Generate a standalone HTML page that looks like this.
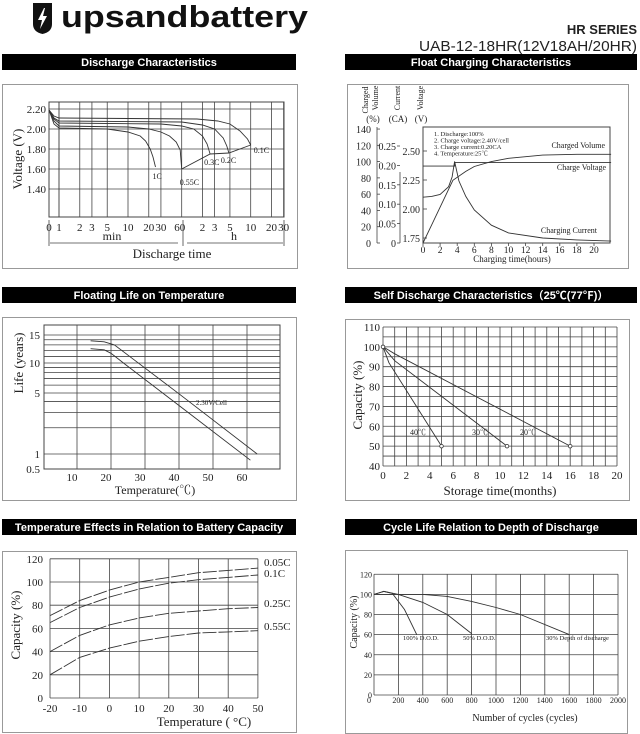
<!DOCTYPE html>
<html><head><meta charset="utf-8"><style>
html,body{margin:0;padding:0;background:#fff;width:640px;height:734px;overflow:hidden}
svg{display:block}
.s{font-family:"Liberation Serif","Noto Serif CJK SC",serif;fill:#222}
.b{font-family:"Liberation Sans","Noto Sans CJK SC",sans-serif;font-weight:bold}
</style></head><body>
<svg id="page" width="640" height="734" viewBox="0 0 640 734" xmlns="http://www.w3.org/2000/svg">
<g>
<path d="M33 3 H52 V24 Q52 32 42.5 34 Q33 32 33 24 Z" fill="#111"/>
<path d="M44 8 L38 20 H42 L40 29 L47 16 H43 L45 8 Z" fill="#fff"/>
<text x="61" y="27" class="b" font-size="31" fill="#111" textLength="247" lengthAdjust="spacingAndGlyphs">upsandbattery</text>
</g>
<text x="637" y="34" text-anchor="end" class="b" font-size="13" fill="#222">HR SERIES</text>
<text x="637" y="51" text-anchor="end" font-family="Liberation Sans, sans-serif" font-size="15" fill="#222" textLength="218" lengthAdjust="spacingAndGlyphs">UAB-12-18HR(12V18AH/20HR)</text>
<g id="root"></g>
</svg>
<script>
// ---------- data ----------
// Discharge (minutes, volts)
const dcLabels=["1C","0.55C","0.3C","0.2C","0.1C"];
const dcTime=[[0,0.5,1,5,10,15,18,21,23,25],[0,0.5,1,10,20,30,40,50,57,60],[0,0.5,1,30,60,90,120,140,155],[0,0.5,1,60,120,180,240,270,290],[0,0.5,1,100,200,300,420,540,600]];
const dcVolt=[[2.19,2.05,2.01,2.00,1.97,1.93,1.88,1.80,1.72,1.62],[2.19,2.08,2.03,2.02,2.00,1.97,1.93,1.87,1.79,1.60],[2.19,2.10,2.06,2.05,2.03,2.00,1.93,1.85,1.75],[2.19,2.11,2.08,2.07,2.04,2.00,1.91,1.83,1.76],[2.19,2.13,2.11,2.10,2.08,2.05,1.98,1.90,1.84]];
const dcXTicks=[1,2,3,5,10,20,30,60,120,180,300,600,1200,1800];
const dcXTickLabels=["1","2","3","5","10","20","30","60","2","3","5","10","20","30"];
const dcYTicks=[2.20,2.00,1.80,1.60,1.40];
// Float charging (hours)
const fcHours=[0,2,4,6,8,10,12,14,16,18,20];
const volHours=[0,3.7,3.7,22];
const volValues=[2.37,2.37,2.40,2.40];
const cvHours=[0,1,2,3,3.5,5,6,8,10,12,14,18,22];
const cvValues=[0,22,44,66,77,88,94,100,104,106,108,109,109];
const ccHours=[0,1,2,3,3.4,3.7,4.2,5,6,8,10,14,18,22];
const ccValues=[0.118,0.12,0.125,0.145,0.17,0.21,0.16,0.12,0.085,0.046,0.026,0.013,0.008,0.005];
const pctTicks=[0,20,40,60,80,100,120,140];
const caTicks=[0,0.05,0.10,0.15,0.20,0.25];
const vTicks=[1.75,2.00,2.25,2.50];
// Floating life
const lifeTemp=[[14,18,21,25,40,63],[14,18,20,24,40,61]];
const lifeYears=[[13.8,13.6,13.0,11.2,4.9,1.0],[12.3,12.1,11.5,9.8,3.6,0.75]];
const lifeXTicks=[10,20,30,40,50,60];
const lifeYTicks=[15,10,5,1,0.5];
// Self discharge
const sdLabels=["40℃","30℃","20℃"];
const sdMonths=[[0,0.5,5],[0,1,10.6],[0,1,16]];
const sdCap=[[100,92,50],[100,93,50],[100,96.5,50]];
const sdXTicks=[0,2,4,6,8,10,12,14,16,18,20];
const sdYTicks=[40,50,60,70,80,90,100,110];
// Temperature effect
const teLabels=["0.05C","0.1C","0.25C","0.55C"];
const teTemps=[-20,-10,0,10,20,30,40,50];
const teCap=[[71,84,93,100,104,108,110,112],[65,78,87,94,99,102,104,106],[40,54,63,69,73,75,77,78],[20,35,43,49,53,56,57,58]];
const teXTicks=[-20,-10,0,10,20,30,40,50];
const teYTicks=[0,20,40,60,80,100,120];
// Cycle life
const clLabels=["100% D.O.D.","50% D.O.D.","30% Depth of discharge"];
const clCycles=[[0,80,150,250,350],[0,80,200,400,600,800],[0,200,400,600,800,1000,1200,1600]];
const clCap=[[100,103,101,85,60],[100,103,100,92,80,61],[100,100,100,98,93,87,80,60]];
const clXTicks=[0,200,400,600,800,1000,1200,1400,1600,1800,2000];
const clYTicks=[0,20,40,60,80,100,120];

// ---------- helpers ----------
const NS="http://www.w3.org/2000/svg";
const root=document.getElementById('root');
function mk(tag,attrs,name,parent){
  const el=document.createElementNS(NS,tag);
  for(const k in attrs)el.setAttribute(k,attrs[k]);
  
  
  (parent||root).appendChild(el);return el;}
function ln(x1,y1,x2,y2,name,w,c,p){return mk('line',{x1,y1,x2,y2,stroke:c||'#444','stroke-width':w||0.8},name,p);}
function tx(x,y,s,name,size,anchor,p,extra){const t=mk('text',Object.assign({x,y,'font-size':size||10,'text-anchor':anchor||'middle',class:'s'},extra||{}),name,p);t.textContent=s;return t;}
function poly(xs,ys,fx,fy,name,p,dash){const d=xs.map((v,i)=>(i?'L':'M')+fx(v).toFixed(1)+' '+fy(ys[i]).toFixed(1)).join(' ');const a={d,fill:'none',stroke:'#333','stroke-width':0.9};if(dash)a['stroke-dasharray']=dash;return mk('path',a,name,p);}
function rect(x,y,w,h,name,fill,stroke,p){return mk('rect',{x,y,width:w,height:h,fill:fill||'none',stroke:stroke||'none'},name,p);}
function bar(x,y,w,s,name){const g=mk('g',{},name);rect(x,y,w,16,'title-bar-bg','#000',null,g);const t=mk('text',{x:x+w/2,y:y+12,'font-size':11,'text-anchor':'middle',fill:'#fff',class:'b'},'title-bar-text',g);t.textContent=s;}
bar(2,54,294,'Discharge Characteristics','discharge-title');
bar(345,54,292,'Float Charging Characteristics','float-charging-title');
bar(2,287,294,'Floating Life on Temperature','floating-life-title');
bar(345,287,292,'Self Discharge Characteristics（25℃(77℉)）','self-discharge-title');
bar(2,519,294,'Temperature Effects in Relation to Battery Capacity','temperature-effects-title');
bar(345,519,292,'Cycle Life Relation to Depth of Discharge','cycle-life-title');

// ---------- chart 1: discharge ----------
(function(){
const g=mk('g',{},'discharge-chart');
rect(2.5,84.5,295,184,'panel-frame',null,'#999',g);
const X=m=>m<=0?49:(m<1?49+10*m:59+69*Math.log10(m));
const Y=v=>129-(v-2.0)*100;
rect(49,102,235,115,'plot-area',null,'#444',g);
dcYTicks.forEach(v=>{ln(49,Y(v),284,Y(v),'y-gridline',0.8,'#444',g);tx(46,Y(v)+4,v.toFixed(2),'y-tick-label',11,'end',g);});
ln(59,102,59,217,'x-gridline',0.8,'#444',g);
dcXTicks.forEach((m,i)=>{ln(X(m),102,X(m),217,'x-gridline',0.8,'#444',g);tx(X(m)+(i==7?-2:0),231,dcXTickLabels[i],'x-tick-label',11,'middle',g);});
tx(49,231,'0','x-tick-label',11,'middle',g);
dcTime.forEach((t,i)=>poly(t,dcVolt[i],X,Y,'series-'+dcLabels[i],g));
const ends=dcTime.slice(1).map((t,i)=>t[t.length-1]);const endV=dcVolt.slice(1).map(v=>v[v.length-1]);
poly(ends,endV,X,Y,'end-voltage-line',g);
const lx=[[-3,12],[-2,16],[-6,11],[-8,10],[3,8]];
dcTime.forEach((t,i)=>{const v=dcVolt[i];tx(X(t[t.length-1])+lx[i][0],Y(v[v.length-1])+lx[i][1],dcLabels[i],'curve-label-'+dcLabels[i],8,'start',g);});
ln(49,220,49,246,'axis-divider',0.8,'#444',g);ln(183,220,183,246,'axis-divider',0.8,'#444',g);ln(284,220,284,246,'axis-divider',0.8,'#444',g);
ln(50,243,178,243,'min-arrow',0.8,'#444',g);ln(187,243,283,243,'h-arrow',0.8,'#444',g);
tx(112,240,'min','min-label',12,'middle',g);tx(234,240,'h','h-label',12,'middle',g);
tx(172,258,'Discharge time','x-axis-title',13,'middle',g);
tx(0,0,'Voltage (V)','y-axis-title',13,'middle',g,{transform:'translate(22,159) rotate(-90)'});
})();

// ---------- chart 2: float charging ----------
(function(){
const g=mk('g',{},'float-charging-chart');
rect(347.5,84.5,281,184,'panel-frame',null,'#999',g);
const X=h=>423+h*8.55;
const YV=v=>238-(v-1.75)*116;
const YP=p=>243-p*0.814;
const YC=c=>243-c*388;
rect(423,127,187,116,'plot-area',null,'#444',g);
ln(377,127,377,243,'pct-axis',0.8,'#444',g);
pctTicks.forEach(p=>{ln(377,YP(p),380,YP(p),'pct-tick',0.8,'#444',g);tx(371,YP(p)+4,String(p),'pct-tick-label',10,'end',g);});
ln(400,172,400,243,'ca-axis',0.8,'#444',g);
caTicks.forEach(c=>{ln(397,YC(c),400,YC(c),'ca-tick',0.8,'#444',g);tx(396,YC(c)+4,c==0?'0':c.toFixed(2),'ca-tick-label',10,'end',g);});
vTicks.forEach(v=>{ln(423,YV(v),427,YV(v),'v-tick',0.8,'#444',g);tx(420,YV(v)+4,v.toFixed(2),'v-tick-label',10,'end',g);});
fcHours.forEach(h=>{ln(X(h),243,X(h),246,'x-tick',0.8,'#444',g);tx(X(h),253,String(h),'x-tick-label',9.5,'middle',g);});
poly(volHours,volValues,X,YV,'charge-voltage-line',g);
poly(cvHours,cvValues,X,YP,'charged-volume-line',g);
poly(ccHours,ccValues,X,YC,'charging-current-line',g);
['1. Discharge:100%','2. Charge voltage:2.40V/cell','3. Charge current:0.20CA','4. Temperature:25℃'].forEach((s,i)=>tx(434,136+i*6.5,s,'note-line',6.5,'start',g));
tx(605,148,'Charged Volume','charged-volume-label',8,'end',g);
tx(606,170,'Charge Voltage','charge-voltage-label',8,'end',g);
tx(597,233,'Charging Current','charging-current-label',8,'end',g);
tx(512,262,'Charging time(hours)','x-axis-title',9,'middle',g);
tx(0,0,'Charged','h1',8,'middle',g,{transform:'translate(368,100) rotate(-90)'});
tx(0,0,'Volume','h2',8,'middle',g,{transform:'translate(378,98) rotate(-90)'});
tx(0,0,'Current','h3',8,'middle',g,{transform:'translate(400,98) rotate(-90)'});
tx(0,0,'Voltage','h4',8,'middle',g,{transform:'translate(423,98) rotate(-90)'});
tx(373,122,'(%)','pct-unit',9,'middle',g);tx(398,122,'(CA)','ca-unit',9,'middle',g);tx(421,122,'(V)','v-unit',9,'middle',g);
})();

// ---------- chart 3: floating life ----------
(function(){
const g=mk('g',{},'floating-life-chart');
rect(2.5,317.5,294,183,'panel-frame',null,'#999',g);
const X=t=>43+3.4*t;
const lv=[Math.log10(0.5),0,Math.log10(5),1,Math.log10(15)],lp=[469,454,393,363,335];
const Y=v=>{const l=Math.log10(v);for(let i=0;i<lv.length-1;i++){if(l<=lv[i+1]||i==lv.length-2){return lp[i]+(l-lv[i])/(lv[i+1]-lv[i])*(lp[i+1]-lp[i]);}}};
rect(44,325,236,144,'plot-area',null,'#444',g);
[2,3,4,6,7,8,9,11,12,13,14].concat(lifeYTicks).forEach(v=>ln(44,Y(v),280,Y(v),'y-gridline',0.8,'#444',g));
ln(44,325,280,325,'y-gridline',0.8,'#444',g);
lifeYTicks.forEach(v=>tx(40,Y(v)+4,String(v),'y-tick-label',11,'end',g));
lifeXTicks.forEach(t=>{ln(X(t),325,X(t),469,'x-gridline',0.8,'#444',g);tx(X(t)-5,481,String(t),'x-tick-label',11,'middle',g);});
lifeTemp.forEach((t,i)=>poly(t,lifeYears[i],X,Y,'life-curve-'+(i?'lower':'upper'),g));
tx(196,405,'2.30V/Cell','curve-label',7,'start',g);
tx(155,494,'Temperature(℃)','x-axis-title',12,'middle',g);
tx(0,0,'Life (years)','y-axis-title',13,'middle',g,{transform:'translate(23,363) rotate(-90)'});
})();

// ---------- chart 4: self discharge ----------
(function(){
const g=mk('g',{},'self-discharge-chart');
rect(345.5,319.5,284,181,'panel-frame',null,'#999',g);
const X=m=>383+m*11.7;
const Y=c=>466-(c-40)*1.986;
for(let m=0;m<=20;m++)ln(X(m),Y(110),X(m),Y(40),'x-gridline',0.8,'#444',g);
for(let c=40;c<=110;c+=5)ln(X(0),Y(c),X(20),Y(c),'y-gridline',0.8,'#444',g);
sdYTicks.forEach(c=>tx(380,Y(c)+4,String(c),'y-tick-label',11,'end',g));
sdXTicks.forEach(m=>tx(X(m),479,String(m),'x-tick-label',11,'middle',g));
sdMonths.forEach((t,i)=>{poly(t,sdCap[i],X,Y,'series-'+sdLabels[i],g);mk('circle',{cx:X(t[t.length-1]),cy:Y(sdCap[i][t.length-1]),r:1.8,fill:'#fff',stroke:'#333','stroke-width':0.8},'end-marker',g);});
mk('circle',{cx:X(0),cy:Y(100),r:1.8,fill:'#fff',stroke:'#333','stroke-width':0.8},'start-marker',g);
const lx=[418,480,528];
sdLabels.forEach((s,i)=>tx(lx[i],435,s,'curve-label',8,'middle',g));
tx(500,495,'Storage time(months)','x-axis-title',13,'middle',g);
tx(0,0,'Capacity (%)','y-axis-title',13,'middle',g,{transform:'translate(362,395) rotate(-90)'});
})();

// ---------- chart 5: temperature effects ----------
(function(){
const g=mk('g',{},'temperature-effects-chart');
rect(2.5,551.5,294,181,'panel-frame',null,'#999',g);
const X=t=>50+(t+20)*2.97;
const Y=c=>698-c*1.16;
teXTicks.forEach(t=>{ln(X(t),Y(120),X(t),Y(0),'x-gridline',0.8,'#444',g);tx(X(t),712,String(t),'x-tick-label',11,'middle',g);});
teYTicks.forEach(c=>{ln(X(-20),Y(c),X(50),Y(c),'y-gridline',0.8,'#444',g);tx(43,Y(c)+4,String(c),'y-tick-label',11,'end',g);});
teCap.forEach((v,i)=>poly(teTemps,v,X,Y,'series-'+teLabels[i],g,'14 2'));
const ly=[566,577,607,630];
teLabels.forEach((s,i)=>tx(264,ly[i],s,'curve-label-'+s,11,'start',g));
tx(204,726,'Temperature ( °C)','x-axis-title',13,'middle',g);
tx(0,0,'Capacity (%)','y-axis-title',13,'middle',g,{transform:'translate(20,625) rotate(-90)'});
})();

// ---------- chart 6: cycle life ----------
(function(){
const g=mk('g',{},'cycle-life-chart');
rect(345.5,550.5,282,183,'panel-frame',null,'#999',g);
const X=n=>374+n*0.122;
const Y=c=>695-c*1.006;
clXTicks.forEach(n=>{ln(X(n),Y(120),X(n),Y(0),'x-gridline',0.8,'#444',g);tx(X(n)+(n?0:-5),703,String(n),'x-tick-label',8,'middle',g);});
clYTicks.forEach(c=>{ln(X(0),Y(c),X(2000),Y(c),'y-gridline',0.8,'#444',g);tx(372,Y(c)+3,String(c),'y-tick-label',8,'end',g);});
clCycles.forEach((t,i)=>poly(t,clCap[i],X,Y,'series-'+i,g));
const lx=[403,463,546];
clLabels.forEach((s,i)=>tx(lx[i],640,s,'curve-label',6.5,'start',g));
tx(525,721,'Number of cycles (cycles)','x-axis-title',10,'middle',g);
tx(0,0,'Capacity (%)','y-axis-title',10,'middle',g,{transform:'translate(357,622) rotate(-90)'});
})();
</script>
</body></html>
